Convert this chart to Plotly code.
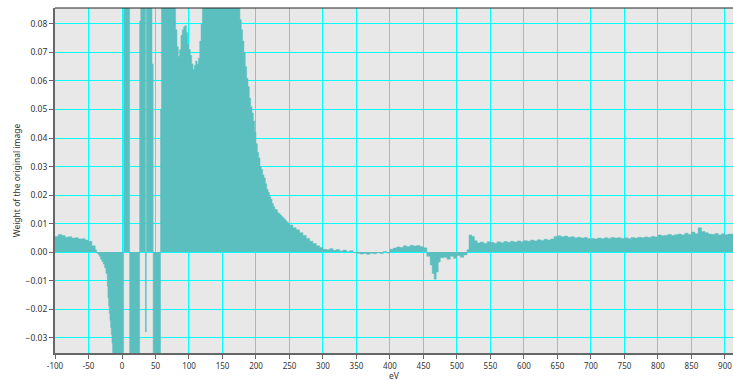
import plotly.graph_objects as go

# Bin left edges (eV) and weights
ev = [
    -100, -95, -90, -85, -80, -75, -70, -65, -60, -55, -50, -45, -40, -38, -36, -34, -32, -30,
    -28, -26, -24, -22, -21, -20, -19, -18, -17, -16, -15, -14,
    2.4, 11.4, 26.3, 28, 35, 36.3, 44.8, 46.5, 57.5, 59,
    80, 82, 84, 86, 88, 90, 92, 94, 96, 98, 100, 102, 104, 106, 108, 110, 112, 114, 116, 118, 120,
    176, 178, 180, 182, 184, 186, 188, 190, 192, 194, 196, 198, 200, 202, 204, 206, 208, 210,
    212, 214, 216, 218, 220, 222, 224, 226, 228, 230, 232, 234, 236, 238, 240, 242, 244, 246, 248,
    250, 255, 260, 265, 270, 275, 280, 285, 290, 295, 300, 305, 310, 315, 320, 325, 330, 335, 340,
    345, 350, 355, 360, 365, 370, 375, 380, 385, 390, 395, 400, 405, 410, 415, 420, 425, 430, 435,
    440, 445, 450, 455, 460, 463, 466, 469, 472, 475, 480, 485, 490, 495, 500, 505, 510, 515, 518,
    522, 526, 530, 535, 540, 545,
    550, 555, 560, 565, 570, 575, 580, 585, 590, 595, 600, 605, 610, 615, 620, 625, 630, 635, 640,
    645, 650, 655, 660, 665, 670, 675, 680, 685, 690, 695, 700, 705, 710, 715, 720, 725, 730, 735,
    740, 745, 750, 755, 760, 765, 770, 775, 780, 785, 790, 795, 800, 805, 810, 815, 820, 825, 830,
    835, 840, 845, 850, 855, 860, 865, 870, 875, 880, 885, 890, 895, 900, 905, 912,
]
weight = [
    0.0055, 0.0062, 0.0058, 0.0052, 0.0054, 0.0049, 0.0050, 0.0046, 0.0047, 0.0042, 0.0038, 0.0022,
    0.0008, -0.0003, -0.0008, -0.0015, -0.0025, -0.0033,
    -0.0042, -0.0055, -0.0075, -0.0120, -0.0160, -0.0190, -0.0215, -0.0240, -0.0265, -0.0290, -0.0320,
    -0.0800,
    0.1200, -0.0800, 0.0810, 0.1200, -0.0280, 0.1200, 0.0660, -0.0800, 0.0500, 0.1200,
    0.0780, 0.0720, 0.0687, 0.0710, 0.0760, 0.0780, 0.0790, 0.0795, 0.0770, 0.0730, 0.0710, 0.0690,
    0.0660, 0.0640, 0.0655, 0.0670, 0.0660, 0.0680, 0.0740, 0.0800, 0.1200,
    0.0815, 0.0780, 0.0740, 0.0700, 0.0650, 0.0610, 0.0580, 0.0540, 0.0510, 0.0488, 0.0460, 0.0420,
    0.0380, 0.0350, 0.0330, 0.0300, 0.0290, 0.0270,
    0.0260, 0.0240, 0.0220, 0.0210, 0.0195, 0.0185, 0.0170, 0.0160, 0.0150, 0.0148, 0.0138, 0.0135,
    0.0130, 0.0125, 0.0120, 0.0115, 0.0110, 0.0105, 0.0100,
    0.0095, 0.0085, 0.0078, 0.0068, 0.0058, 0.0048, 0.0038, 0.0030, 0.0022, 0.0016, 0.0010, 0.0008,
    0.0012, 0.0006, 0.0009, 0.0004, 0.0007, 0.0002, 0.0005,
    -0.0002, -0.0004, -0.0007, -0.0005, -0.0008, -0.0004, -0.0006, -0.0002, -0.0005, 0.0002, -0.0003,
    0.0010, 0.0014, 0.0018, 0.0016, 0.0022, 0.0019, 0.0024, 0.0021,
    0.0023, 0.0019, 0.0015, -0.0015, -0.0045, -0.0075, -0.0095, -0.0070, -0.0035, -0.0020, -0.0018,
    -0.0025, -0.0015, -0.0022, -0.0012, -0.0018, -0.0010, 0.0008, 0.0060,
    0.0055, 0.0040, 0.0032, 0.0035, 0.0030, 0.0036,
    0.0034, 0.0031, 0.0036, 0.0033, 0.0037, 0.0034, 0.0038, 0.0035, 0.0039, 0.0036, 0.0040, 0.0038,
    0.0042, 0.0039, 0.0043, 0.0041, 0.0045, 0.0042, 0.0046,
    0.0055, 0.0057, 0.0054, 0.0056, 0.0052, 0.0054, 0.0050, 0.0052, 0.0049, 0.0051, 0.0047, 0.0048,
    0.0046, 0.0049, 0.0047, 0.0050, 0.0048, 0.0051, 0.0049,
    0.0050, 0.0048, 0.0050, 0.0047, 0.0051, 0.0049, 0.0052, 0.0050, 0.0053, 0.0051, 0.0055, 0.0053,
    0.0060, 0.0057, 0.0059, 0.0062, 0.0058, 0.0061, 0.0063,
    0.0060, 0.0066, 0.0062, 0.0070, 0.0064, 0.0085, 0.0072, 0.0068, 0.0063, 0.0062, 0.0065, 0.0060,
    0.0064, 0.0061, 0.0063, 0.0060, 0.0060,
]

x_ticks = list(range(-100, 901, 50))
x_tick_labels = [str(v) for v in x_ticks]

FONT = "Noto Sans"
TXT = "#333333"

fig = go.Figure()
fig.add_trace(go.Scatter(
    x=ev, y=weight, mode="lines", line_shape="hv",
    line=dict(color="#5CBFBF", width=0.5),
    fill="tozeroy", fillcolor="#5CBFBF", hoverinfo="skip",
))

fig.update_layout(
    width=733, height=380,
    margin=dict(l=55, r=0, t=8, b=27, autoexpand=False),
    paper_bgcolor="white", plot_bgcolor="#E8E8E8",
    showlegend=False,
    font=dict(family=FONT, size=9, color=TXT),
    xaxis=dict(
        range=[-100, 912], tickmode="array", tickvals=x_ticks, ticktext=x_tick_labels,
        automargin=False,
        showgrid=True, gridcolor="#00FFFF", gridwidth=1, zeroline=False,
        showline=True, linecolor="#666666", linewidth=2,
        ticks="outside", ticklen=4, tickcolor="#666666",
        tickfont=dict(family=FONT, size=8, color=TXT),
    ),
    yaxis=dict(
        range=[-0.0354, 0.0856], dtick=0.01, tick0=0, tickformat=".2f",
        automargin=False,
        showgrid=True, gridcolor="#00FFFF", gridwidth=1, zeroline=False,
        showline=True, linecolor="#666666", linewidth=2,
        ticks="outside", ticklen=4, tickcolor="#666666",
        tickfont=dict(family=FONT, size=8.5, color=TXT),
        title=dict(text="Weight of the original image", font=dict(family=FONT, size=8.5, color=TXT), standoff=4),
    ),
    shapes=[dict(type="line", xref="paper", yref="paper", x0=0, x1=1, y0=1, y1=1,
                 line=dict(color="#222222", width=1))],
    annotations=[dict(text="eV", xref="paper", yref="paper", x=0.5, y=0, yshift=-22,
                      xanchor="center", yanchor="middle", showarrow=False,
                      font=dict(family=FONT, size=8.5, color=TXT))],
)

fig.write_html("out.html", config={"displayModeBar": False},
               post_script="document.body.style.margin='0';")
